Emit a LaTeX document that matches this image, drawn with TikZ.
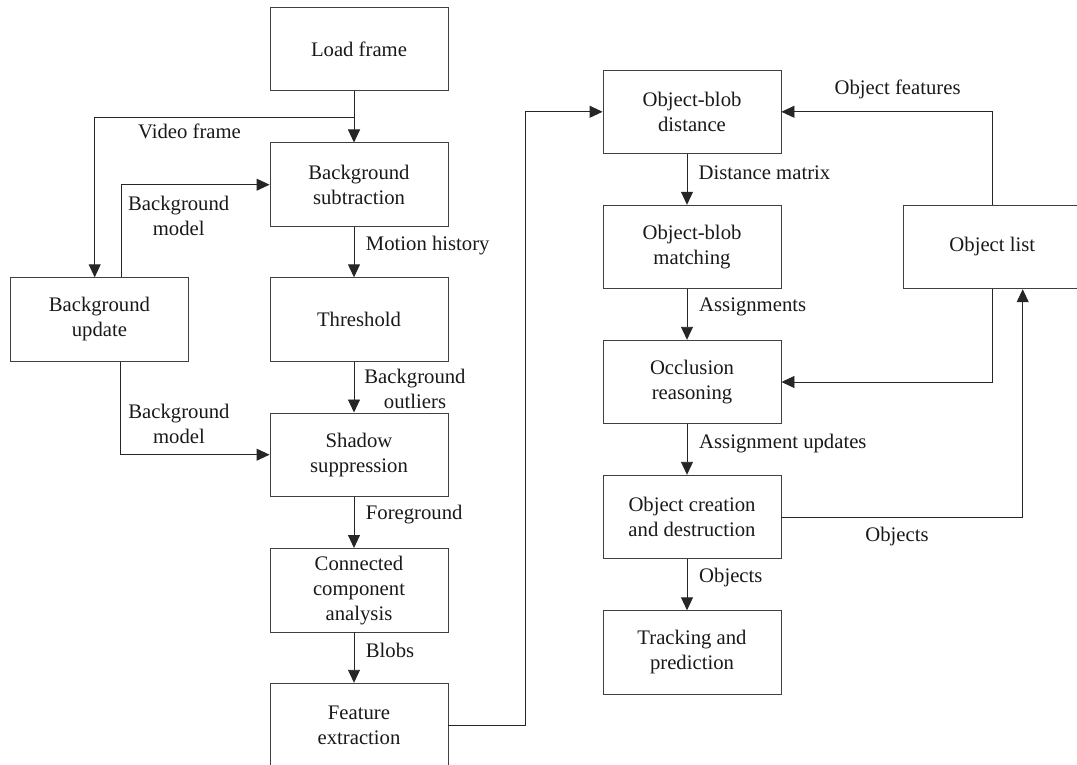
\documentclass[tikz,border=0pt]{standalone}
\usepackage{fontspec}
\setmainfont{Liberation Serif}
\usetikzlibrary{arrows.meta}
\begin{document}
\begin{tikzpicture}[x=1pt,y=-1pt,
  txt/.style={font=\fontsize{20.7}{25}\selectfont, text=black!90},
  box/.style={txt, draw=black!75, line width=0.9pt, minimum width=178pt,
    minimum height=83.5pt, inner sep=0pt, align=center},
  lbl/.style={txt, inner sep=0pt, align=center},
  arr/.style={draw=black!85, line width=0.9pt,
    -{Triangle[length=13pt,width=12pt]}}]
\useasboundingbox (0,0) rectangle (1077,765);

% pixel pipeline (left)
\node[box] (load)   at (359,49)    {Load frame};
\node[box] (bsub)   at (359,184.7) {Background\\subtraction};
\node[box] (thr)    at (359,319.5) {Threshold};
\node[box] (shadow) at (359,454.7) {Shadow\\suppression};
\node[box] (cca)    at (359,590.2) {Connected\\component\\analysis};
\node[box] (feat)   at (359,725)   {Feature\\extraction};
\node[box] (bupd)   at (99.4,319.5) {Background\\update};

% object tracking (right)
\node[box] (obd)   at (692,111.8) {Object-blob\\distance};
\node[box] (obm)   at (692,247)   {Object-blob\\matching};
\node[box] (occ)   at (692,382)   {Occlusion\\reasoning};
\node[box] (ocd)   at (692,517)   {Object creation\\and destruction};
\node[box] (track) at (692,652.5) {Tracking and\\prediction};
\node[box] (objl)  at (992.3,247) {Object list};

% connectors, left column
\draw[arr] ([xshift=-5pt]load.south) -- ([xshift=-5pt]bsub.north);
\draw[arr] ([xshift=-5pt]load.south) -- ++(0,26) -| ([xshift=-4.7pt]bupd.north);
\draw[arr] ([xshift=21.8pt]bupd.north) |- (bsub.west);
\draw[arr] ([xshift=-5pt]bsub.south) -- ([xshift=-5pt]thr.north);
\draw[arr] ([xshift=-5pt]thr.south) -- ([xshift=-5pt]shadow.north);
\draw[arr] ([xshift=20.8pt]bupd.south) |- (shadow.west);
\draw[arr] ([xshift=-5pt]shadow.south) -- ([xshift=-5pt]cca.north);
\draw[arr] ([xshift=-5pt]cca.south) -- ([xshift=-5pt]feat.north);
\draw[arr] (feat.east) -- ++(77,0) |- (obd.west);

% connectors, right column
\draw[arr] ([xshift=-5pt]obd.south) -- ([xshift=-5pt]obm.north);
\draw[arr] ([xshift=-5pt]obm.south) -- ([xshift=-5pt]occ.north);
\draw[arr] ([xshift=-5pt]occ.south) -- ([xshift=-5pt]ocd.north);
\draw[arr] ([xshift=-5pt]ocd.south) -- ([xshift=-5pt]track.north);
\draw[arr] (objl.north) |- (obd.east);
\draw[arr] (objl.south) |- (occ.east);
\draw[arr] (ocd.east) -| ([xshift=30.4pt]objl.south);

% connector labels
\node[lbl] (lvid) at (189.5,131) {Video frame};
\node[lbl] (lbm1) at (178.7,215.5) {Background\\model};
\node[lbl, anchor=west] (lmot) at (365.7,245.7) {Motion history};
\node[lbl] (lout) at (415,389.2) {Background\\outliers};
\node[lbl] (lbm2) at (179,424) {Background\\model};
\node[lbl, anchor=west] (lfg) at (365.7,515) {Foreground};
\node[lbl, anchor=west] (lblob) at (365.7,650.7) {Blobs};
\node[lbl] (lof) at (897.6,89.3) {Object features};
\node[lbl, anchor=west] (ldm) at (698.4,172.7) {Distance matrix};
\node[lbl, anchor=west] (lasg) at (699,307.3) {Assignments};
\node[lbl, anchor=west] (lau) at (699,443.3) {Assignment updates};
\node[lbl] (lobj1) at (897,536.7) {Objects};
\node[lbl, anchor=west] (lobj2) at (699,577.7) {Objects};
\end{tikzpicture}
\end{document}
